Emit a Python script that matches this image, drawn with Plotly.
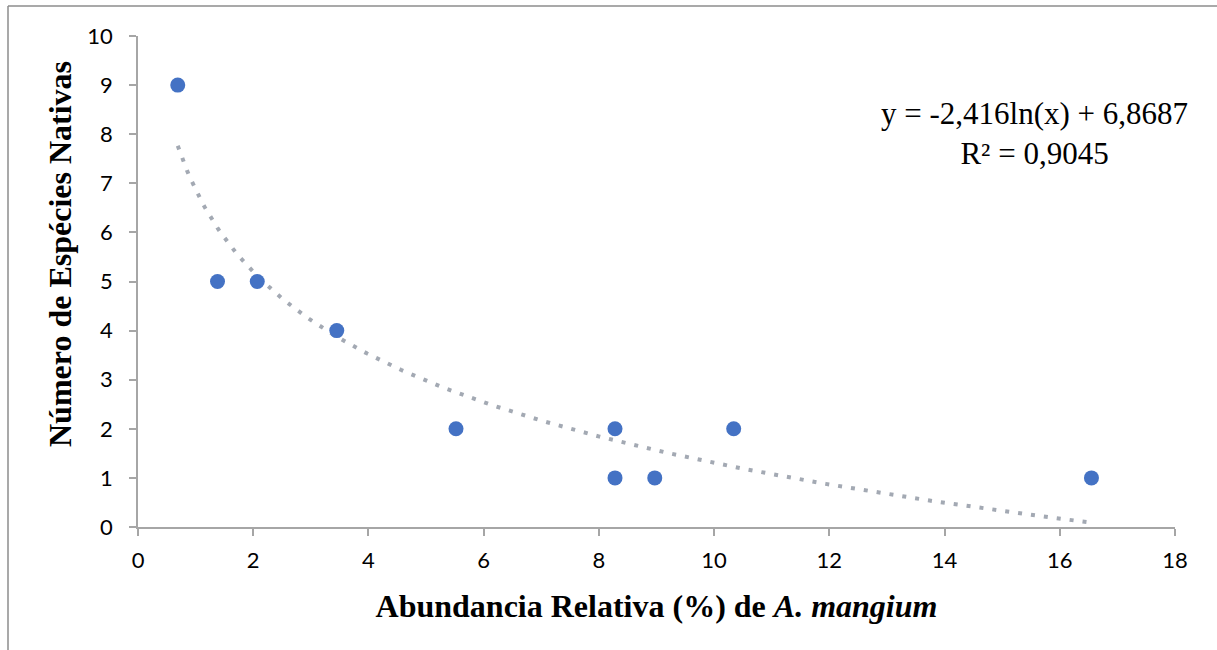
import numpy as np
import plotly.graph_objects as go

# Data
abund_x = [0.69, 1.38, 2.07, 3.45, 5.52, 8.28, 8.28, 8.97, 10.34, 16.55]
especies_y = [9, 5, 5, 4, 2, 2, 1, 1, 2, 1]
x_ticks = [0, 2, 4, 6, 8, 10, 12, 14, 16, 18]
y_ticks = [0, 1, 2, 3, 4, 5, 6, 7, 8, 9, 10]
coef_a = -2.416
coef_b = 6.8687

W, H = 1217, 650
L, R, T, B = 138, 42, 36, 123

tx = np.linspace(min(abund_x), max(abund_x), 300)
ty = coef_a * np.log(tx) + coef_b

fig = go.Figure()
fig.add_trace(go.Scatter(
    x=tx, y=ty, mode="lines",
    line=dict(color="#A3A9B3", width=4, dash="4px,9px"),
    hoverinfo="skip", showlegend=False,
))
fig.add_trace(go.Scatter(
    x=abund_x, y=especies_y, mode="markers",
    marker=dict(color="#4472C4", size=15, line=dict(width=0)),
    showlegend=False,
))

serif = "Liberation Serif, Times New Roman, serif"
axis_common = dict(
    showgrid=False, zeroline=False, showline=True,
    linecolor="#A6A6A6", linewidth=1.5,
    ticks="outside", ticklen=7, tickcolor="#A6A6A6", tickwidth=1.5,
    tickfont=dict(family="Lato, Open Sans, sans-serif", size=22, color="#000000"),
)

fig.update_xaxes(range=[0, 18], tickvals=x_ticks, ticklabelstandoff=6, **axis_common,
                 title=dict(text="<b>Abundancia Relativa (%) de <i>A. mangium</i></b>",
                            font=dict(family=serif, size=32, color="#000"),
                            standoff=22))
fig.update_yaxes(range=[0, 10], tickvals=y_ticks, ticklabelstandoff=12, **axis_common)

def px_x(p):
    return (p - L) / (W - L - R)

def px_y(p):
    return (H - B - p) / (H - T - B)

# y-axis title (placed as rotated annotation to match reference position)
fig.add_annotation(
    x=px_x(60), y=px_y(254), xref="paper", yref="paper",
    text="<b>Número de Espécies Nativas</b>", textangle=-90,
    showarrow=False, xanchor="center", yanchor="middle",
    font=dict(family=serif, size=32, color="#000"),
)

fig.add_annotation(
    x=px_x(1034), y=px_y(133),
    xref="paper", yref="paper",
    text="y = -2,416ln(x) + 6,8687<br>R² = 0,9045",
    showarrow=False, align="center", xanchor="center", yanchor="middle",
    font=dict(family=serif, size=31, color="#000"),
)

# outer frame (top and left edges)
fig.add_shape(type="line", xref="paper", yref="paper",
              x0=px_x(8), x1=px_x(W), y0=px_y(6), y1=px_y(6),
              line=dict(color="#8C8C8C", width=1.5))
fig.add_shape(type="line", xref="paper", yref="paper",
              x0=px_x(8), x1=px_x(8), y0=px_y(6), y1=px_y(H),
              line=dict(color="#8C8C8C", width=1.5))

fig.update_layout(
    width=W, height=H,
    margin=dict(l=L, r=R, t=T, b=B),
    paper_bgcolor="white", plot_bgcolor="white",
    showlegend=False,
)

fig.write_html("out.html")
